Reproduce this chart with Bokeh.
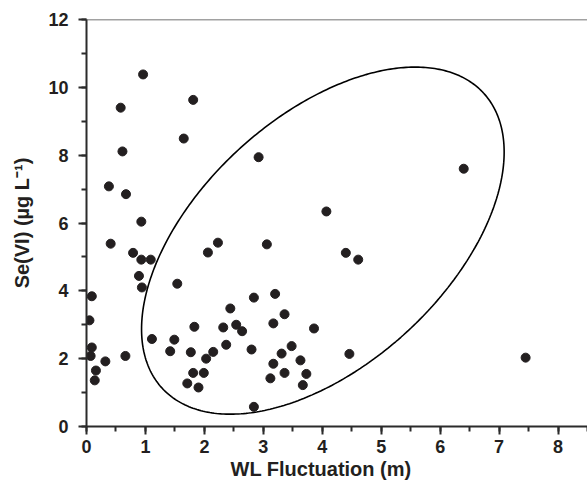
import numpy as np
from bokeh.plotting import figure
from bokeh.models import Range1d, SingleIntervalTicker, Span, ColumnDataSource, Title
from bokeh.embed import file_html
from bokeh.resources import INLINE

# WL fluctuation (m) and Se(VI) concentration (ug/L)
wl_fluctuation = [0.96, 0.58, 1.81, 1.65, 0.61, 2.92, 0.38, 0.67, 0.93, 0.41,
                  2.23, 3.06, 6.40, 4.07, 0.79, 0.93, 1.09, 0.89, 0.94, 1.54,
                  2.06, 0.09, 0.05, 0.09, 0.07, 0.16, 0.14, 0.32, 0.66, 1.11,
                  1.42, 1.49, 1.77, 1.83, 1.81, 1.71, 1.90, 1.99, 2.03, 2.15,
                  2.32, 2.37, 2.44, 2.54, 2.64, 2.84, 2.80, 2.84, 3.20, 3.17,
                  3.36, 3.31, 3.48, 3.17, 3.12, 3.36, 3.63, 3.73, 3.67, 3.86,
                  4.40, 4.61, 4.46, 7.45]
se_vi = [10.38, 9.40, 9.63, 8.49, 8.11, 7.94, 7.08, 6.85, 6.04, 5.39,
         5.42, 5.37, 7.60, 6.34, 5.12, 4.92, 4.92, 4.44, 4.10, 4.21,
         5.13, 3.84, 3.13, 2.33, 2.08, 1.65, 1.36, 1.92, 2.08, 2.58,
         2.22, 2.56, 2.19, 2.94, 1.58, 1.27, 1.15, 1.58, 2.00, 2.20,
         2.92, 2.41, 3.48, 3.00, 2.81, 3.80, 2.27, 0.58, 3.91, 3.04,
         3.31, 2.15, 2.37, 1.85, 1.42, 1.58, 1.95, 1.55, 1.22, 2.89,
         5.12, 4.92, 2.14, 2.03]

# Ellipse drawn around the cluster (data units)
ellipse_cx, ellipse_cy = 4.01, 5.48
ellipse_ax, ellipse_bx = 2.728, 1.421
ellipse_ay, ellipse_by = 4.348, 2.697

x_range = (0, 8.5)
y_range = (0, 12)
x_label = "WL Fluctuation (m)"
y_label = "Se(VI) (µg L⁻¹)"

FONT = "Liberation Sans"
INK = "#231f20"
AXC = "#2b2b2b"

p = figure(width=587, height=487, output_backend="svg", toolbar_location=None,
           x_range=Range1d(*x_range), y_range=Range1d(*y_range),
           min_border_left=86, min_border_right=0, min_border_top=19,
           min_border_bottom=61)
p.outline_line_color = None
p.xgrid.grid_line_color = None
p.ygrid.grid_line_color = None

t = np.linspace(0, 2 * np.pi, 400)
ex = ellipse_cx + ellipse_ax * np.cos(t) - ellipse_bx * np.sin(t)
ey = ellipse_cy + ellipse_ay * np.cos(t) + ellipse_by * np.sin(t)
p.line(ex, ey, line_color="black", line_width=1.6)

src = ColumnDataSource(dict(x=wl_fluctuation, y=se_vi))
p.scatter("x", "y", source=src, size=9, fill_color=INK, line_color=INK)

p.add_layout(Span(location=y_range[1], dimension="width",
                  line_color="#444444", line_width=1.5))

p.xaxis.ticker = SingleIntervalTicker(interval=1, num_minor_ticks=2)
p.yaxis.ticker = SingleIntervalTicker(interval=2, num_minor_ticks=2)
p.yaxis.axis_label = y_label

for ax in p.axis:
    ax.axis_line_color = AXC
    ax.axis_line_width = 2
    ax.major_tick_line_color = AXC
    ax.minor_tick_line_color = AXC
    ax.major_tick_line_width = 2
    ax.minor_tick_line_width = 2
    ax.major_tick_in = 0
    ax.major_tick_out = 8
    ax.minor_tick_in = 0
    ax.minor_tick_out = 5
    ax.major_label_text_font = FONT
    ax.major_label_text_font_style = "bold"
    ax.major_label_text_font_size = "18px"
    ax.major_label_text_color = INK
    ax.axis_label_text_font = FONT
    ax.axis_label_text_font_style = "bold"
    ax.axis_label_text_font_size = "20px"
    ax.axis_label_text_color = INK

p.xaxis.major_label_standoff = 5
p.yaxis.major_label_standoff = 10
p.yaxis.axis_label_standoff = 12

p.add_layout(Title(text=x_label, align="left", offset=144, standoff=0,
                   text_font=FONT, text_font_style="bold", text_font_size="20px",
                   text_color=INK), "below")

open("out.html", "w").write(file_html(p, INLINE))
